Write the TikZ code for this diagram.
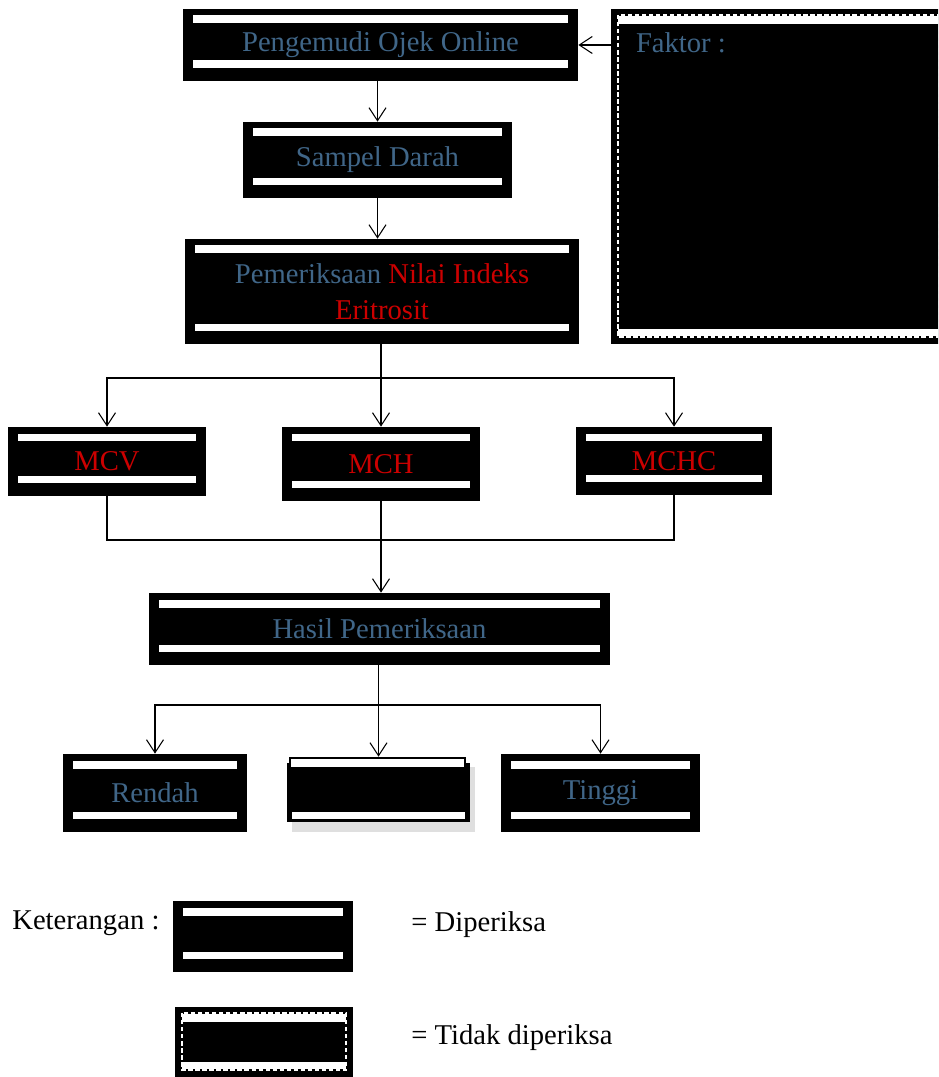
\documentclass[tikz,border=0pt]{standalone}
\usepackage{fontspec}
\setmainfont{Liberation Serif}
\usepackage{tikz}
\usetikzlibrary{arrows.meta,positioning,calc,shadows}
\definecolor{tekbiru}{RGB}{64,102,136}
\definecolor{tekmerah}{RGB}{204,0,0}

\begin{document}
\begin{tikzpicture}[x=0.02cm, y=-0.02cm,
    font=\fontsize{16.3}{20.4}\selectfont,
    ukuran/.style 2 args={minimum width=#1*0.02cm, minimum height=#2*0.02cm, inner sep=0pt},
    diperiksa/.style={rectangle, fill=black, text=tekbiru, align=center,
        path picture={
          \fill[white] ([xshift=0.2cm,yshift=-0.13cm]path picture bounding box.north west)
              rectangle ([xshift=-0.2cm,yshift=-0.29cm]path picture bounding box.north east);
          \fill[white] ([xshift=0.2cm,yshift=0.26cm]path picture bounding box.south west)
              rectangle ([xshift=-0.2cm,yshift=0.41cm]path picture bounding box.south east);
        }},
    tidakdiperiksa/.style={rectangle, fill=black, text=tekbiru,
        path picture={
          \fill[white] ([xshift=0.14cm,yshift=-0.14cm]path picture bounding box.north west)
              rectangle ([xshift=-0.14cm,yshift=-0.3cm]path picture bounding box.north east);
          \fill[white] ([xshift=0.14cm,yshift=0.16cm]path picture bounding box.south west)
              rectangle ([xshift=-0.14cm,yshift=0.3cm]path picture bounding box.south east);
          \draw[white, line width=0.6pt, dash pattern=on 2.5pt off 1.5pt]
              ([xshift=0.14cm,yshift=-0.12cm]path picture bounding box.north west)
              rectangle ([xshift=-0.14cm,yshift=0.14cm]path picture bounding box.south east);
        }},
    merah/.style={text=tekmerah},
    teks/.style={anchor=west, inner sep=0pt},
    panah/.style={-{Straight Barb[length=0.26cm,width=0.34cm]}, line width=0.6pt},
    garis/.style={line width=0.6pt}
]
    \clip (0,0) rectangle (938,1077);

    % Alur utama
    \node[diperiksa, ukuran={395}{72}] (pengemudi) at (380.5,45) {Pengemudi Ojek Online};
    \node[diperiksa, ukuran={269}{76}] (sampel) at (377.5,160) {Sampel Darah};
    \node[diperiksa, ukuran={394}{105}] (periksa) at (382,291.5)
        {Pemeriksaan \textcolor{tekmerah}{Nilai Indeks}\\\textcolor{tekmerah}{Eritrosit}};

    % Faktor (tidak diperiksa)
    \node[tidakdiperiksa, ukuran={335}{335},
          label={[anchor=north west, text=tekbiru, inner sep=0pt, xshift=0.5cm, yshift=-0.48cm]north west:Faktor :}]
        (faktor) at (778.5,176.5) {};

    % Indeks eritrosit
    \node[diperiksa, merah, ukuran={198}{69}] (mcv) at (107,461.5) {MCV};
    \node[diperiksa, merah, ukuran={198}{74}] (mch) at (381,464) {MCH};
    \node[diperiksa, merah, ukuran={196}{68}] (mchc) at (674,461) {MCHC};

    \node[diperiksa, ukuran={461}{72}] (hasil) at (379.5,629) {Hasil Pemeriksaan};

    % Hasil
    \node[diperiksa, ukuran={184}{78}] (rendah) at (155,793) {Rendah};
    \node[ukuran={183}{65},
          drop shadow={shadow xshift=0.1cm, shadow yshift=-0.2cm, fill=gray!25, opacity=1},
          path picture={
            \fill[black] ([yshift=-0.12cm]path picture bounding box.north west)
                rectangle (path picture bounding box.south east);
            \filldraw[fill=white, draw=black, line width=0.6pt]
                ([xshift=0.06cm,yshift=-0.02cm]path picture bounding box.north west)
                rectangle ([xshift=-0.1cm,yshift=-0.22cm]path picture bounding box.north east);
            \fill[white] ([xshift=0.1cm,yshift=0.06cm]path picture bounding box.south west)
                rectangle ([xshift=-0.1cm,yshift=0.2cm]path picture bounding box.south east);
          }] (normal) at (378.5,789.5) {};
    \node[diperiksa, ukuran={199}{78}] (tinggi) at (600.5,793) {Tinggi};

    % Panah
    \draw[panah] (pengemudi.east -| faktor.west) -- (pengemudi.east);
    \draw[panah] (sampel.north |- pengemudi.south) -- (sampel.north);
    \draw[panah] (sampel.south) -- (sampel.south |- periksa.north);
    \draw[panah] (periksa.south -| mch.north) -- (mch.north);
    \coordinate (simpul1) at (379,378);
    \draw[panah] (simpul1) -| (mcv.north);
    \draw[panah] (simpul1) -| (mchc.north);

    \coordinate (simpul2) at (379,540);
    \draw[garis] (mcv.south) |- (simpul2);
    \draw[garis] (mchc.south) |- (simpul2);
    \draw[panah] (mch.south) -- (mch.south |- hasil.north);

    \draw[panah] (hasil.south -| normal.north) -- (normal.north);
    \coordinate (simpul3) at (378.5,705);
    \draw[panah] (simpul3) -| (rendah.north);
    \draw[panah] (simpul3) -| (tinggi.north);

    % Keterangan
    \node[teks] (ket) at (12,923) {Keterangan :};
    \node[diperiksa, ukuran={180}{71}] (lgdiperiksa) at (263,936.5) {};
    \node[teks] (txdiperiksa) at (411,925) {= Diperiksa};
    \node[tidakdiperiksa, ukuran={178}{70}] (lgtidak) at (264,1042) {};
    \node[teks] (txtidak) at (411,1038) {= Tidak diperiksa};
\end{tikzpicture}
\end{document}
